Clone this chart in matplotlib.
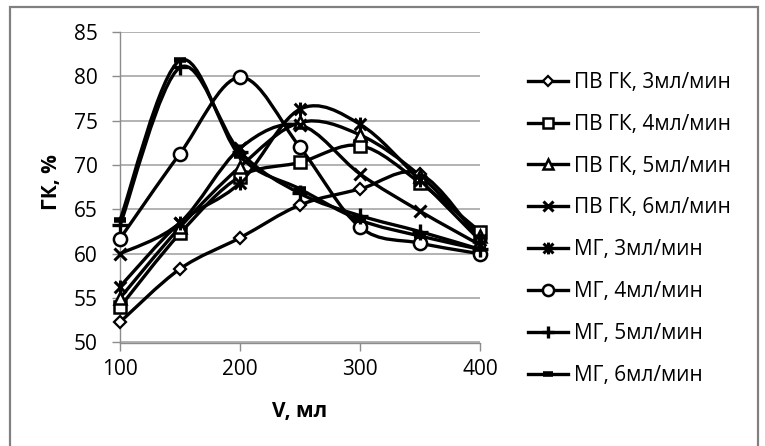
import numpy as np
import matplotlib
matplotlib.use('Agg')
import matplotlib.pyplot as plt
from matplotlib.path import Path
from matplotlib.patches import PathPatch, Rectangle
from matplotlib.lines import Line2D

plt.rcParams['font.family'] = ['Open Sans', 'DejaVu Sans']

# V, ml
volumes = [100, 150, 200, 250, 300, 350, 400]

# GK, % per series
pv_3 = [52.3, 58.3, 61.8, 65.5, 67.3, 69.0, 61.5]
pv_4 = [54.0, 62.3, 68.7, 70.3, 72.2, 68.0, 62.5]
pv_5 = [55.0, 63.0, 69.8, 74.8, 73.4, 68.8, 62.0]
pv_6 = [60.0, 63.5, 71.9, 74.5, 69.0, 64.8, 61.0]
mg_3 = [56.3, 63.5, 68.0, 76.3, 74.6, 68.3, 61.5]
mg_4 = [61.7, 71.3, 79.9, 72.0, 63.0, 61.2, 60.0]
mg_5 = [63.2, 81.0, 71.5, 66.8, 64.3, 62.5, 60.5]
mg_6 = [63.8, 81.8, 71.0, 67.3, 63.8, 62.0, 60.5]

series_labels = ['ПВ ГК, 3мл/мин', 'ПВ ГК, 4мл/мин', 'ПВ ГК, 5мл/мин', 'ПВ ГК, 6мл/мин',
                 'МГ, 3мл/мин', 'МГ, 4мл/мин', 'МГ, 5мл/мин', 'МГ, 6мл/мин']
series_values = [pv_3, pv_4, pv_5, pv_6, mg_3, mg_4, mg_5, mg_6]

# excel "star" marker: an x with a vertical bar through it
star = Path([(-1, -1), (1, 1), (-1, 1), (1, -1), (0, -1.2), (0, 1.2)],
            [Path.MOVETO, Path.LINETO] * 3)

# marker, size, face, edge width
styles = [('D', 6.5, 'white', 1.6),
          ('s', 8, 'white', 1.8),
          ('^', 9, 'white', 1.8),
          ('x', 9, 'black', 2.2),
          (star, 10, 'black', 2.2),
          ('o', 9.5, 'white', 1.8),
          ('+', 11, 'black', 2.4),
          ('_', 8, 'black', 4.0)]


def _smooth_path(x, y):
    # excel-like smoothed line: cubic bezier through the points
    pts = np.column_stack([x, y]).astype(float)
    n = len(pts)
    verts = [pts[0]]
    codes = [Path.MOVETO]
    for i in range(n - 1):
        p0 = pts[max(i - 1, 0)]
        p1 = pts[i]
        p2 = pts[i + 1]
        p3 = pts[min(i + 2, n - 1)]
        verts += [p1 + (p2 - p0) / 6.0, p2 - (p3 - p1) / 6.0, p2]
        codes += [Path.CURVE4] * 3
    return Path(verts, codes)


fig = plt.figure(figsize=(7.65, 4.46), dpi=100)
ax = fig.add_axes([120 / 765, 1 - 342.5 / 446, 360 / 765, 310.5 / 446])

handles = []
for label, vals, (mk, ms, fc, mew) in zip(series_labels, series_values, styles):
    patch = PathPatch(_smooth_path(volumes, vals), facecolor='none', edgecolor='black',
                      lw=2.4, clip_on=False, zorder=3)
    ax.add_patch(patch)
    ax.plot(volumes, vals, linestyle='none', marker=mk, markersize=ms,
            markerfacecolor=fc, markeredgecolor='black', markeredgewidth=mew,
            clip_on=False, zorder=4)
    handles.append(Line2D([], [], color='black', lw=2.4, marker=mk, markersize=ms * 0.85,
                          markerfacecolor=fc, markeredgecolor='black', markeredgewidth=mew))

ax.set_xlim(100, 400)
ax.set_ylim(50, 85)
ax.set_xticks([100, 200, 300, 400])
ax.set_yticks(np.arange(50, 86, 5))
ax.yaxis.grid(True, color='#a6a6a6', lw=1.2)
ax.set_axisbelow(True)
for s in ['top', 'right']:
    ax.spines[s].set_visible(False)
for s in ['left', 'bottom']:
    ax.spines[s].set_color('#8c8c8c')
    ax.spines[s].set_linewidth(1.0)
ax.tick_params(axis='both', colors='#8c8c8c', labelcolor='black', labelsize=15,
               length=6, width=1.0)
ax.tick_params(axis='y', pad=10)
ax.tick_params(axis='x', pad=6)

fig.text(300 / 765, 1 - 412 / 446, 'V, мл', ha='center', va='center',
         fontsize=15, fontweight='bold')
fig.text(51 / 765, 1 - 182 / 446, 'ГК, %', ha='center', va='center',
         rotation=90, fontsize=15, fontweight='bold')

fig.legend(handles, series_labels, loc='upper left', bbox_to_anchor=(528 / 765, 1 - 72 / 446),
           frameon=False, fontsize=15, handlelength=1.9, handletextpad=0.3,
           labelspacing=1.0, borderpad=0, borderaxespad=0)

fig.add_artist(Rectangle((10 / 765, -0.05), 748 / 765, 1.034, transform=fig.transFigure,
                         fill=False, edgecolor='#808080', lw=1.6))

fig.savefig('out.png', dpi=100)
